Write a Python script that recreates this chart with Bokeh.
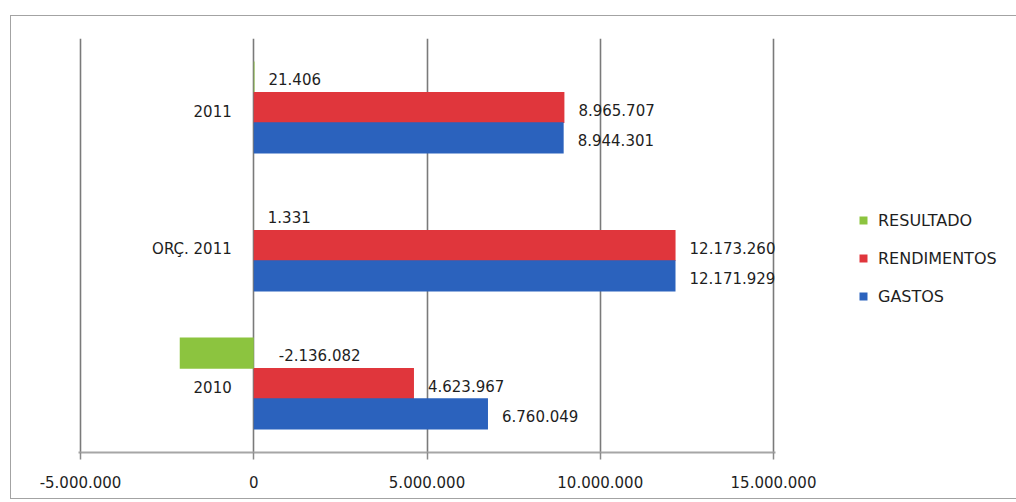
from bokeh.plotting import figure
from bokeh.layouts import column
from bokeh.models import (ColumnDataSource, FactorRange, Range1d, FixedTicker,
                          CustomJSTickFormatter, Legend, LegendItem)
from bokeh.transform import dodge
from bokeh.core.properties import value
from bokeh.embed import file_html
from bokeh.resources import INLINE

# ---- data ----
categories = ["2010", "ORÇ. 2011", "2011"]
gastos = [6760049, 12171929, 8944301]
rendimentos = [4623967, 12173260, 8965707]
resultado = [-2136082, 1331, 21406]
x_ticks = [-5000000, 0, 5000000, 10000000, 15000000]
series_names = ["RESULTADO", "RENDIMENTOS", "GASTOS"]
series_colors = ["#8cc43f", "#e0363c", "#2b62bd"]

FONT = "DejaVu Sans"
TXT = "#1e1e1e"
FS = "15px"


def fmt(v):
    return f"{v:,}".replace(",", ".")


p = figure(width=993, height=482, output_backend="svg", toolbar_location=None,
           y_range=FactorRange(factors=categories, range_padding=0),
           x_range=Range1d(-5058000, 15058000),
           frame_width=697, frame_height=414,
           min_border_left=67, min_border_right=229,
           min_border_top=22, min_border_bottom=46)
p.outline_line_color = None
p.background_fill_color = "white"
p.border_fill_color = "white"

p.yaxis.visible = False
p.ygrid.visible = False
p.xaxis.ticker = FixedTicker(ticks=x_ticks)
p.xgrid.ticker = FixedTicker(ticks=x_ticks)
p.xgrid.grid_line_color = "#7a7a7a"
p.xgrid.grid_line_width = 1.6
p.xaxis.formatter = CustomJSTickFormatter(
    code="return Math.round(tick).toString().replace(/\\B(?=(\\d{3})+(?!\\d))/g, '.');")
p.xaxis.axis_line_color = "#a6a6a6"
p.xaxis.axis_line_width = 2
p.xaxis.major_tick_line_color = "#8a8a8a"
p.xaxis.major_tick_line_width = 1.5
p.xaxis.major_tick_out = 7
p.xaxis.major_tick_in = 0
p.xaxis.minor_tick_line_color = None
p.xaxis.major_label_standoff = 16
p.xaxis.major_label_text_font = FONT
p.xaxis.major_label_text_font_size = FS
p.xaxis.major_label_text_color = TXT

series_values = [resultado, rendimentos, gastos]
offsets = [0.22, 0.0, -0.22]
bar_h = 0.225

items = []
for name, vals, col, off in zip(series_names, series_values, series_colors, offsets):
    src = ColumnDataSource(dict(
        cat=categories,
        val=vals,
        lx=[max(v, 0) for v in vals],
        lxo=[14 if v >= 0 else 25 for v in vals],
        lab=[fmt(v) for v in vals],
    ))
    r = p.hbar(y=dodge("cat", off, range=p.y_range), left=0, right="val",
               height=bar_h, source=src, fill_color=col, line_color=None)
    p.text(x="lx", y=dodge("cat", off - 0.015, range=p.y_range), text="lab", source=src,
           x_offset="lxo", text_align="left", text_baseline="middle",
           text_font=value(FONT), text_font_size=FS, text_color=TXT)
    items.append(LegendItem(label=name, renderers=[r]))

# category labels next to the vertical axis at zero
csrc = ColumnDataSource(dict(cat=categories, x0=[0] * len(categories)))
p.text(x="x0", y=dodge("cat", -0.025, range=p.y_range), text="cat", source=csrc,
       x_offset=-22, text_align="right", text_baseline="middle",
       text_font=value(FONT), text_font_size=FS, text_color=TXT)

legend = Legend(items=items, location=(83, 146), orientation="vertical",
                glyph_width=10, glyph_height=10, label_height=20,
                spacing=18, label_standoff=10, padding=0, margin=0,
                border_line_color=None, background_fill_alpha=0,
                label_text_font=FONT, label_text_font_size="16px",
                label_text_color=TXT)
p.add_layout(legend, "right")

lay = column(p)
lay.styles = {"margin-left": "10px", "margin-top": "15px",
              "border": "1px solid #a3a3a3"}

open("out.html", "w").write(file_html(lay, INLINE))
